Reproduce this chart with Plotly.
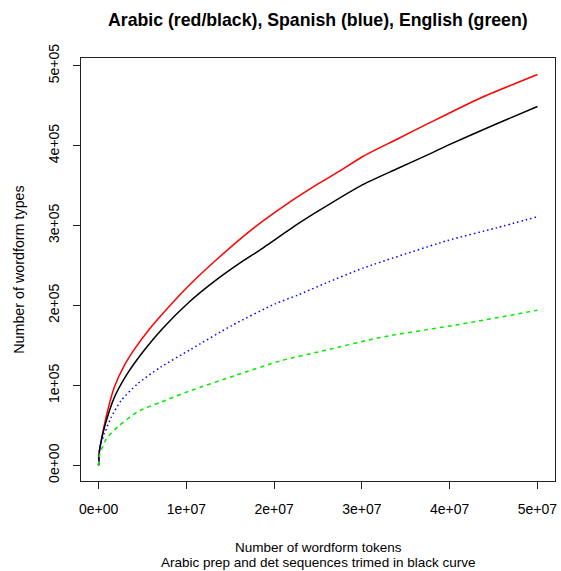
import plotly.graph_objects as go

# Data (tokens, wordform types)
arabic_tokens = [0, 0.1e6, 0.3e6, 1.05e6, 1.8e6, 2.94e6, 4.07e6, 5.76e6, 7.65e6, 10.3e6, 13.3e6,
                 17.8e6, 21.2e6, 25.0e6, 27.6e6, 30.2e6, 34.0e6, 37.8e6, 43.4e6, 50.0e6]
arabic_types = [0, 18e3, 31e3, 69e3, 98e3, 125e3, 145e3, 170e3, 194e3, 225e3, 256e3,
                298e3, 325e3, 352e3, 369e3, 387e3, 408e3, 429e3, 459e3, 489e3]

arabic_trim_tokens = [0, 0.1e6, 0.3e6, 0.68e6, 1.8e6, 3.3e6, 5.2e6, 7.27e6, 10.3e6, 13.3e6, 16.5e6,
                      18.2e6, 22.7e6, 25.0e6, 29.9e6, 34.0e6, 37.8e6, 39.7e6, 45.3e6, 50.0e6]
arabic_trim_types = [0, 18e3, 30e3, 48e3, 85e3, 115e3, 144e3, 171e3, 204e3, 231e3, 256e3,
                     268e3, 302e3, 318e3, 350e3, 371e3, 390e3, 400e3, 427e3, 449e3]

spanish_tokens = [0, 0.15e6, 0.68e6, 1.43e6, 2.56e6, 4.44e6, 7.08e6, 10.5e6, 15.2e6, 20.1e6,
                  22.7e6, 25.9e6, 30.2e6, 39.7e6, 45.3e6, 50.0e6]
spanish_types = [0, 22e3, 40e3, 60e3, 81e3, 102e3, 123e3, 145e3, 175e3, 202e3,
                 213e3, 228e3, 247e3, 281e3, 297e3, 311e3]

english_tokens = [0, 0.1e6, 0.3e6, 0.87e6, 2.18e6, 4.44e6, 7.08e6, 10.5e6, 15.6e6, 20.8e6,
                  25.9e6, 32.1e6, 41.5e6, 50.0e6]
english_types = [0, 12e3, 19e3, 33e3, 48e3, 67e3, 79e3, 93.5e3, 112.5e3, 131e3,
                 144e3, 160e3, 177e3, 194e3]

x_tickvals = [0, 1e7, 2e7, 3e7, 4e7, 5e7]
x_ticktext = ["0e+00", "1e+07", "2e+07", "3e+07", "4e+07", "5e+07"]
y_tickvals = [0, 1e5, 2e5, 3e5, 4e5, 5e5]
y_ticktext = ["0e+00", "1e+05", "2e+05", "3e+05", "4e+05", "5e+05"]

FONT = "Liberation Sans, Arial, Helvetica, sans-serif"

fig = go.Figure()
fig.add_trace(go.Scatter(x=arabic_tokens, y=arabic_types, mode="lines",
                         line=dict(color="#ff0000", width=1.5, shape="spline", smoothing=0.6),
                         name="Arabic"))
fig.add_trace(go.Scatter(x=arabic_trim_tokens, y=arabic_trim_types, mode="lines",
                         line=dict(color="#000000", width=1.5, shape="spline", smoothing=0.6),
                         name="Arabic (trimmed)"))
fig.add_trace(go.Scatter(x=spanish_tokens, y=spanish_types, mode="lines",
                         line=dict(color="#0000ff", width=1.5, dash="1.5px,3px",
                                   shape="spline", smoothing=0.6), name="Spanish"))
fig.add_trace(go.Scatter(x=english_tokens, y=english_types, mode="lines",
                         line=dict(color="#00ee00", width=1.5, dash="4px,4px",
                                   shape="spline", smoothing=0.6), name="English"))

fig.update_layout(
    width=561, height=571,
    margin=dict(l=81, r=4, t=58, b=90),
    paper_bgcolor="white", plot_bgcolor="white",
    showlegend=False,
    font=dict(family=FONT, size=14, color="black"),
    xaxis=dict(range=[-2e6, 5.2e7], tickvals=x_tickvals, ticktext=x_ticktext,
               showgrid=False, zeroline=False, showline=True, mirror=True,
               linecolor="#222222", linewidth=1.2, ticks="outside", ticklen=7,
               tickcolor="#222222", tickfont=dict(size=14), ticklabelstandoff=8),
    yaxis=dict(range=[-19600, 509600], tickvals=y_tickvals, ticktext=y_ticktext,
               showgrid=False, zeroline=False, showline=True, mirror=True,
               linecolor="#222222", linewidth=1.2, ticks="outside", ticklen=7,
               tickcolor="#222222", tickangle=-90, tickfont=dict(size=14),
               ticklabelstandoff=8),
    annotations=[
        dict(text="<b>Arabic (red/black), Spanish (blue), English (green)</b>",
             xref="paper", yref="paper", x=0.5, y=(481 - 20) / 423, xanchor="center",
             yanchor="middle", showarrow=False, font=dict(size=17.7)),
        dict(text="Number of wordform tokens", xref="paper", yref="paper",
             x=0.5, y=-(547 - 481) / 423, xanchor="center", yanchor="middle",
             showarrow=False, font=dict(size=13.5)),
        dict(text="Arabic prep and det sequences trimed in black curve", xref="paper",
             yref="paper", x=0.5, y=-(562.5 - 481) / 423, xanchor="center",
             yanchor="middle", showarrow=False, font=dict(size=13.5)),
        dict(text="Number of wordform types", xref="paper", yref="paper",
             x=(18 - 81) / 476, y=0.5, xanchor="center", yanchor="middle",
             textangle=-90, showarrow=False, font=dict(size=14.3)),
    ],
)

fig.write_html(
    "out.html",
    config={"displayModeBar": False},
    post_script="document.body.style.margin='0';document.body.style.overflow='hidden';",
)
